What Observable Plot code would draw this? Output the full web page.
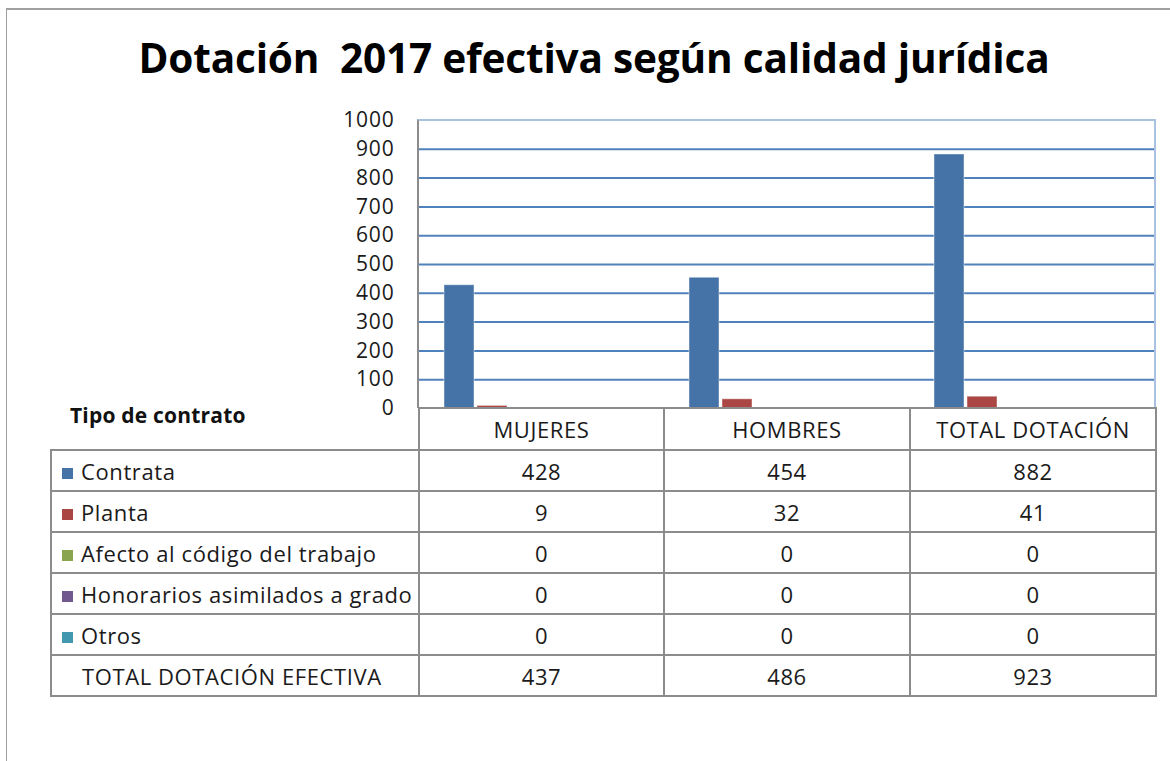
<!DOCTYPE html>
<html><head><meta charset="utf-8">
<script src="https://cdn.jsdelivr.net/npm/d3@7"></script>
<script src="https://cdn.jsdelivr.net/npm/@observablehq/plot@0.6"></script>
<style>
body{margin:0;background:#fff;font-family:"Open Sans",Lato,sans-serif;}
#wrap{position:relative;width:1170px;height:761px;overflow:hidden;background:#fff;}
#frame{position:absolute;left:6px;top:8px;width:1200px;height:800px;border-left:1px solid #a0a0a0;border-top:2px solid #a0a0a0;}
#title{position:absolute;left:0;top:31px;width:1188px;text-align:center;font-weight:bold;font-size:40.6px;white-space:pre;color:#000;line-height:54px;letter-spacing:-0.2px;}
#chart{position:absolute;left:0;top:100px;}
#plotbox{position:absolute;left:417px;top:119px;width:739px;height:289px;border-left:2px solid #8c8c8c;border-top:2px solid #a9c2df;border-right:2px solid #a9c2df;box-sizing:border-box;}
#tipo{position:absolute;left:70px;top:401px;font-weight:bold;font-size:21px;color:#111;letter-spacing:0.2px;}
table{position:absolute;left:50px;top:407px;border-collapse:collapse;font-size:22px;color:#1a1a1a;table-layout:fixed;letter-spacing:0.6px;}
td{border:2px solid #8c8c8c;padding:0;text-align:center;vertical-align:middle;height:39px;white-space:nowrap;line-height:24px;}
tr.head td{height:40px;}
td.blank{border:none;border-right:2px solid #8c8c8c;}
td.lab{text-align:left;padding-left:10px;}
.sq{display:inline-block;width:11px;height:11px;margin-right:8px;vertical-align:1px;}
td.tot{text-align:left;padding-left:30px;}
</style></head>
<body><div id="wrap">
<div id="frame"></div>
<div id="title"></div>
<div id="chart"></div>
<div id="plotbox"></div>
<table id="tbl"></table>
<div id="tipo"></div>
</div>
<script>
const title = "Dotación  2017 efectiva según calidad jurídica";
const tableHeader = "Tipo de contrato";
const categories = ["MUJERES", "HOMBRES", "TOTAL DOTACIÓN"];
const series = ["Contrata", "Planta", "Afecto al código del trabajo", "Honorarios asimilados a grado", "Otros"];
const colors = ["#4572A7", "#AA4643", "#89A54E", "#71588F", "#4198AF"];
const contrata = [428, 454, 882];
const planta = [9, 32, 41];
const afecto = [0, 0, 0];
const honorarios = [0, 0, 0];
const otros = [0, 0, 0];
const totalLabel = "TOTAL DOTACIÓN EFECTIVA";
const totals = [437, 486, 923];
const yTicks = [0, 100, 200, 300, 400, 500, 600, 700, 800, 900, 1000];

const seriesValues = [contrata, planta, afecto, honorarios, otros];
const rows = [];
categories.forEach((c, i) => seriesValues.forEach((vals, j) => rows.push({cat: c, serie: series[j], value: vals[i]})));

document.getElementById("title").textContent = title;
document.getElementById("tipo").textContent = tableHeader;

const chart = Plot.plot({
  width: 1170, height: 320,
  marginLeft: 418, marginRight: 15, marginTop: 20, marginBottom: 12,
  style: {fontSize: "21px", letterSpacing: "0.8px", fontFamily: "'Open Sans', Lato, sans-serif", color: "#1a1a1a", background: "transparent", overflow: "visible"},
  fx: {domain: categories, padding: 0, axis: null},
  x: {domain: [...series, " "], paddingInner: 0.08, paddingOuter: 0.68, axis: null},
  y: {domain: [0, 1000], ticks: yTicks, tickSize: 0, tickPadding: 25, tickFormat: d => String(d), label: null},
  color: {domain: series, range: colors},
  marks: [
    Plot.ruleY(yTicks.filter(d => d > 0 && d < 1000), {stroke: "#4F81BD", strokeWidth: 2}),
    Plot.barY(rows, {fx: "cat", x: "serie", y: "value", fill: "serie", stroke: "#ffffff", strokeOpacity: 0.45, strokeWidth: 1})
  ]
});
document.getElementById("chart").appendChild(chart);

// table
const tbl = document.getElementById("tbl");
const colW = [368, 245, 246, 246];
let html = "<colgroup>" + colW.map(w => `<col style="width:${w}px">`).join("") + "</colgroup>";
html += `<tr class="head"><td class="blank"></td>` + categories.map(c => `<td>${c}</td>`).join("") + "</tr>";
series.forEach((s, j) => {
  html += `<tr><td class="lab"><span class="sq" style="background:${colors[j]}"></span>${s}</td>` +
    seriesValues[j].map(v => `<td>${v}</td>`).join("") + "</tr>";
});
html += `<tr><td class="tot">${totalLabel}</td>` + totals.map(v => `<td>${v}</td>`).join("") + "</tr>";
tbl.innerHTML = html;
</script>
</body></html>
